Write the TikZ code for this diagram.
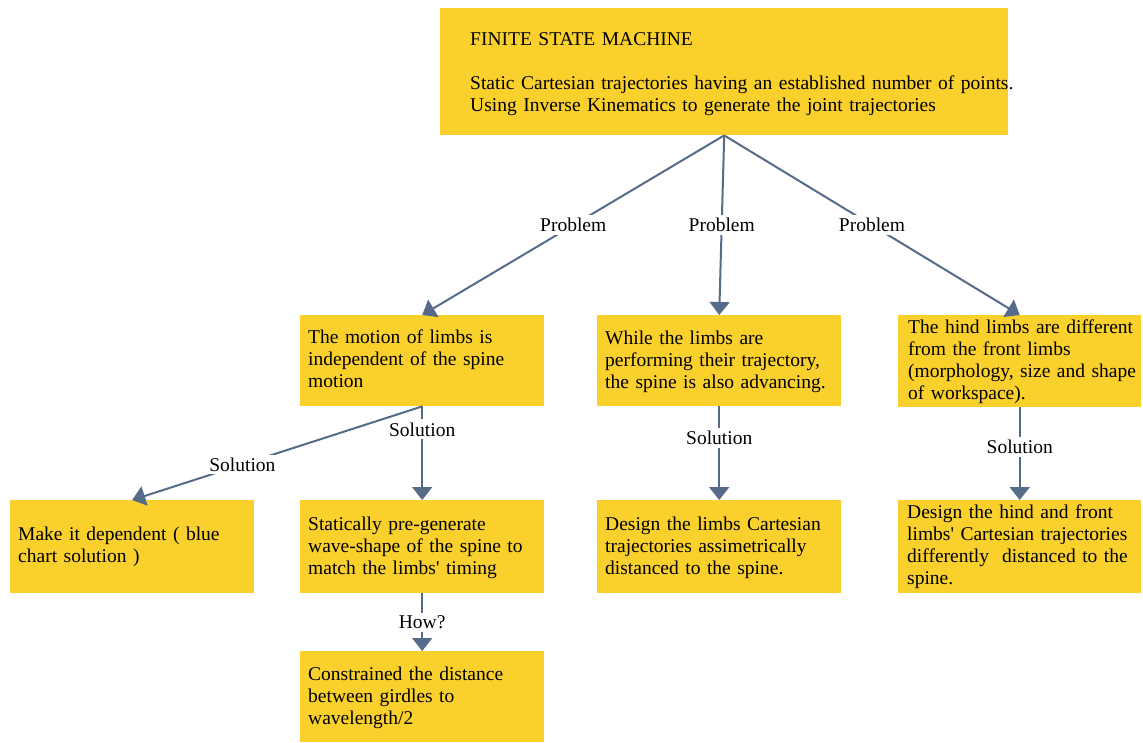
\documentclass[tikz,border=0pt]{standalone}
\usepackage{fontspec}
\setmainfont{Liberation Serif}[Ligatures=TeXOff]
\usetikzlibrary{arrows.meta}
\definecolor{boxyellow}{RGB}{250,208,45}
\definecolor{linkblue}{RGB}{86,106,138}

\begin{document}
\begin{tikzpicture}[x=1pt,y=-1pt,
  box/.style={fill=boxyellow, draw=none, inner sep=0pt, anchor=north west},
  boxtext/.style={anchor=base west, inner sep=0pt, align=left, text width=#1,
    font=\fontsize{19.5}{22.3}\selectfont},
  boxtext/.default=240pt,
  link/.style={draw=linkblue, line width=2pt, -{Triangle[width=20pt,length=13pt]}},
  lbl/.style={fill=white, inner sep=3pt, font=\fontsize{19.5}{22.3}\selectfont}]

\useasboundingbox (0,0) rectangle (1143,742);

% boxes
\node[box, minimum width=568pt, minimum height=127pt] (fsm) at (440,8) {};
\node[box, minimum width=244pt, minimum height=91pt] (indep) at (300,315) {};
\node[box, minimum width=244pt, minimum height=91pt] (advance) at (597,315) {};
\node[box, minimum width=243pt, minimum height=92pt] (hind) at (898,315) {};
\node[box, minimum width=244pt, minimum height=93pt] (depend) at (10,500) {};
\node[box, minimum width=244pt, minimum height=93pt] (pregen) at (300,500) {};
\node[box, minimum width=244pt, minimum height=93pt] (asym) at (597,500) {};
\node[box, minimum width=243pt, minimum height=93pt] (diffdist) at (898,500) {};
\node[box, minimum width=244pt, minimum height=91pt] (girdles) at (300,651) {};

% box texts
\node[boxtext=560pt] (fsm-t) at (470,45)
  {FINITE STATE MACHINE\\[22.3pt]
   Static Cartesian trajectories having an established number of points.\\
   Using Inverse Kinematics to generate the joint trajectories};
\node[boxtext] (indep-t) at (308,343)
  {The motion of limbs is\\ independent of the spine\\ motion};
\node[boxtext] (advance-t) at (605,344)
  {While the limbs are\\ performing their trajectory,\\ the spine is also advancing.};
\node[boxtext] (hind-t) at (908,333)
  {The hind limbs are different\\ from the front limbs\\ (morphology, size and shape\\ of workspace).};
\node[boxtext] (depend-t) at (18,540)
  {Make it dependent ( blue\\ chart solution )};
\node[boxtext] (pregen-t) at (308,530)
  {Statically pre-generate\\ wave-shape of the spine to\\ match the limbs' timing};
\node[boxtext] (asym-t) at (605,530)
  {Design the limbs Cartesian\\ trajectories assimetrically\\ distanced to the spine.};
\node[boxtext] (diffdist-t) at (907,518)
  {Design the hind and front\\ limbs' Cartesian trajectories\\ differently\ \ distanced to the\\ spine.};
\node[boxtext] (girdles-t) at (308,680)
  {Constrained the distance\\ between girdles to\\ wavelength/2};

% connectors
\draw[link] (fsm.south) -- node[lbl, pos=0.5] (p1) {Problem} (indep.north);
\draw[link] (fsm.south) -- node[lbl, pos=0.5] (p2) {Problem} (advance.north);
\draw[link] (fsm.south) -- node[lbl, pos=0.5] (p3) {Problem} (hind.north);
\draw[link] (indep.south) -- node[lbl, pos=0.62] (s1) {Solution} (depend.north);
\draw[link] (indep.south) -- node[lbl, pos=0.245] (s2) {Solution} (pregen.north);
\draw[link] (advance.south) -- node[lbl, pos=0.34] (s3) {Solution} (asym.north);
\draw[link] (hind.south) -- node[lbl, pos=0.43] (s4) {Solution} (diffdist.north);
\draw[link] (pregen.south) -- node[lbl, pos=0.5] (h1) {How?} (girdles.north);

\end{tikzpicture}
\end{document}
